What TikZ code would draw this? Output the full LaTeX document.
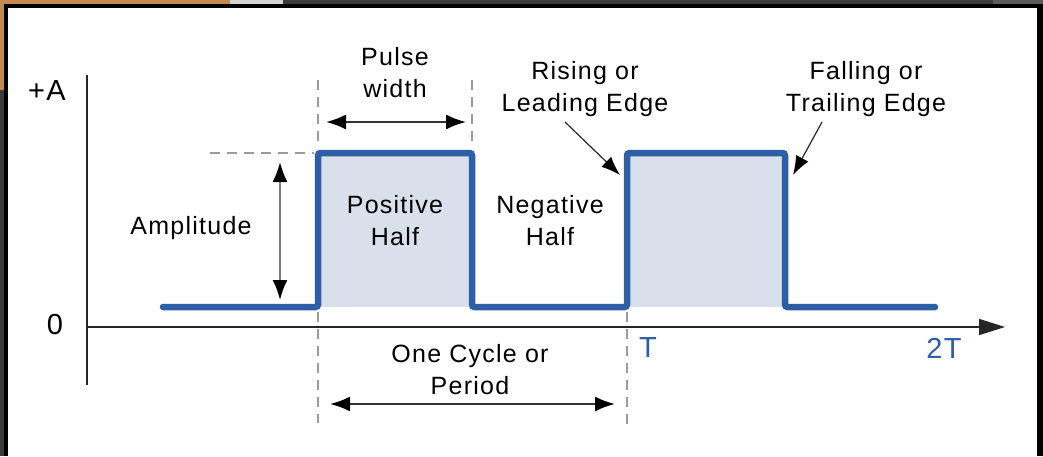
\documentclass[tikz,border=0pt]{standalone}
\usepackage{fontspec}
\setmainfont{Liberation Sans}[LetterSpace=5]
\usetikzlibrary{arrows.meta}
\definecolor{wave}{HTML}{2E5EA6}
\definecolor{wavefill}{HTML}{D9E0EB}
\definecolor{dashgray}{HTML}{9A9A9A}
\definecolor{copper}{HTML}{C48A50}
\definecolor{darkbg}{HTML}{3C3C3C}
\definecolor{midbg}{HTML}{5C5C5C}
\definecolor{lightbg}{HTML}{D4D4D4}
\definecolor{shaft}{HTML}{7A7A7A}
\tikzset{
  lbl/.style={align=center, inner sep=0pt, font=\fontsize{25}{32}\selectfont, text=black},
  bigl/.style={inner sep=0pt, font=\fontsize{29}{32}\selectfont, text=black},
  axislbl/.style={inner sep=0pt, font=\fontsize{29}{32}\selectfont, text=wave},
  guide/.style={draw=dashgray, line width=1.5pt, dash pattern=on 10pt off 7pt},
  dimarrow/.style={draw=black!80, line width=2pt, {Latex[length=20pt,width=15pt,black]}-{Latex[length=20pt,width=15pt,black]}},
  pointer/.style={draw=black!85, line width=1.2pt, -{Latex[length=19pt,width=14pt,black]}},
  signal/.style={draw=wave, line width=6.5pt, line cap=round, rounded corners=2.5pt},
}
\begin{document}
\begin{tikzpicture}[x=1pt,y=-1pt]
\useasboundingbox (0,0) rectangle (1043,456);
% screenshot surroundings
\fill[darkbg] (0,0) rectangle (1043,456);
\fill[copper] (0,0) rectangle (230,4);
\fill[copper] (0,0) rectangle (4,90);
\fill[lightbg] (230,0) rectangle (283,4);
\fill[midbg] (993,0) rectangle (1043,4);
\fill[black] (4,4) rectangle (1043,456);
\fill[white] (8,8) rectangle (1037,456);

% coordinates
\coordinate (o) at (87,327);
\coordinate (ytop) at (87,75);
\coordinate (ybot) at (87,385);
\coordinate (xend) at (1005,327);

% fills
\fill[wavefill] (318,307) rectangle (472,153);
\fill[wavefill] (627,307) rectangle (785,153);

% guides
\draw[guide] (318,80) -- (318,148);
\draw[guide] (472,80) -- (472,148);
\draw[guide] (318,312) -- (318,423);
\draw[guide] (627,312) -- (627,430);
\draw[guide] (210,153) -- (314,153);

% axes
\draw[black!85, line width=1.5pt] (ytop) -- (ybot);
\draw[black!85, line width=1.5pt, -{Triangle[length=26pt,width=16pt]}] (o) -- (xend);

% signal
\draw[signal] (163,307) -- (318,307) -- (318,153) -- (472,153) -- (472,307) -- (627,307) -- (627,153) -- (785,153) -- (785,307) -- (935,307);

% labels
\node[bigl] (plus) at (47,91) {+A};
\node[bigl] (zero) at (55,325) {0};
\node[axislbl] (T) at (648,348) {T};
\node[axislbl] (TT) at (944,348) {2T};
\node[lbl] (pw) at (395,73) {Pulse\\width};
\node[lbl] (rise) at (585,89) {Rising or\\Leading Edge};
\node[lbl] (fall) at (866,89) {Falling or\\Trailing Edge};
\node[lbl] (amp) at (191,228) {Amplitude};
\node[lbl] (pos) at (395,221) {Positive\\Half};
\node[lbl] (neg) at (550,221) {Negative\\Half};
\node[lbl] (cyc) at (470,370) {One Cycle or\\Period};

% dimension arrows
\coordinate (pwL) at (326,122);
\coordinate (pwR) at (466,122);
\draw[dimarrow] (pwL) -- (pwR);
\coordinate (ampT) at (280,162);
\coordinate (ampB) at (280,300);
\draw[dimarrow, draw=shaft] (ampT) -- (ampB);
\coordinate (perL) at (330,404);
\coordinate (perR) at (615,404);
\draw[dimarrow] (perL) -- (perR);

% edge pointers
\coordinate (riseA) at (565,122);
\coordinate (riseB) at (620,175);
\draw[pointer] (riseA) -- (riseB);
\coordinate (fallA) at (822,122);
\coordinate (fallB) at (793,175);
\draw[pointer] (fallA) -- (fallB);
\end{tikzpicture}
\end{document}
